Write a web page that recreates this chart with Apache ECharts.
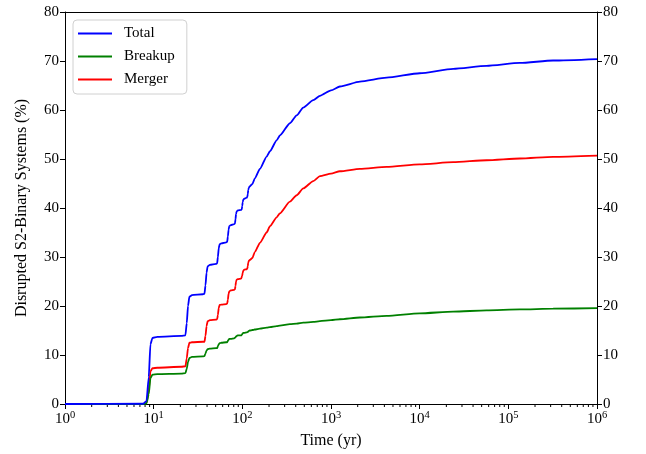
<!DOCTYPE html>
<html><head><meta charset="utf-8">
<script src="https://cdn.jsdelivr.net/npm/echarts@6/dist/echarts.min.js"></script>
<style>html,body{margin:0;padding:0;background:#fff}#c{width:646px;height:454px}</style>
</head><body><div id="c"></div>
<script>
// Time (yr)
const times = [1, 7.6, 8.3, 8.8, 9.2, 9.7, 11, 20.5,
  22.8, 23.6, 24.4, 25.3, 27, 36,
  37.4, 38.4, 39.5, 40.6, 43, 50.5,
  52, 53, 54.2, 55.5, 58, 66,
  67.5, 68.7, 70, 71.3, 74, 81,
  82.5, 83.7, 85, 86.4, 89, 97,
  98.5, 99.7, 101, 102.5, 105, 112,
  114, 115.3, 116.7, 118.3, 121, 130,
  138, 158, 188, 205, 244, 265, 344, 410, 486, 631, 750, 1000, 1260, 2120, 4240, 10000, 23900, 56800, 135000, 320000, 1000000];
// Disrupted S2-binary systems (%)
const total = [0, 0.05, 0.6, 5.5, 12.2, 13.5, 13.7, 13.9,
  14.0, 16.5, 20.0, 21.9, 22.2, 22.4,
  22.5, 24.2, 26.8, 28.1, 28.4, 28.6,
  28.7, 30.0, 31.8, 32.6, 32.8, 33.0,
  33.1, 34.2, 35.6, 36.3, 36.5, 36.7,
  36.8, 37.7, 38.8, 39.3, 39.5, 39.6,
  39.7, 40.4, 41.2, 41.7, 41.9, 42.1,
  42.3, 42.9, 43.7, 44.1, 44.4, 44.9,
  46.0, 48.0, 50.5, 51.6, 53.8, 54.8, 57.3, 58.9, 60.5, 62.0, 62.9, 64.0, 64.8, 65.8, 66.6, 67.5, 68.4, 69.0, 69.6, 70.1, 70.4];
const breakup = [0, 0, 0.1, 2.0, 5.3, 6.0, 6.1, 6.2,
  6.3, 7.2, 8.6, 9.4, 9.6, 9.7,
  9.8, 10.3, 10.9, 11.2, 11.3, 11.4,
  11.4, 11.8, 12.2, 12.4, 12.5, 12.6,
  12.6, 12.9, 13.1, 13.3, 13.3, 13.4,
  13.4, 13.6, 13.8, 13.9, 14.0, 14.0,
  14.1, 14.2, 14.4, 14.5, 14.5, 14.6,
  14.6, 14.7, 14.8, 14.9, 15.0, 15.1,
  15.2, 15.4, 15.6, 15.7, 15.9, 16.0, 16.3, 16.4, 16.6, 16.75, 16.9, 17.1, 17.3, 17.65, 18.0, 18.5, 18.85, 19.1, 19.3, 19.45, 19.55];
const merger = [0, 0, 0.2, 2.8, 6.7, 7.3, 7.4, 7.6,
  7.7, 9.3, 11.4, 12.5, 12.6, 12.7,
  12.7, 13.9, 15.9, 16.9, 17.1, 17.2,
  17.3, 18.2, 19.6, 20.2, 20.3, 20.4,
  20.5, 21.3, 22.5, 23.0, 23.2, 23.3,
  23.4, 24.1, 25.0, 25.4, 25.5, 25.6,
  25.6, 26.2, 26.8, 27.2, 27.4, 27.5,
  27.7, 28.2, 28.9, 29.2, 29.4, 29.8,
  31.0, 32.9, 35.0, 36.3, 38.1, 38.9, 41.3, 42.6, 44.0, 45.5, 46.5, 47.0, 47.5, 48.0, 48.4, 48.9, 49.35, 49.75, 50.1, 50.45, 50.7];
const seriesNames = ['Total', 'Breakup', 'Merger'];
const decadeExponents = [0, 1, 2, 3, 4, 5];
const minorMultipliers = [2, 3, 4, 5, 6, 7, 8, 9];

const FONT = '"Liberation Serif", "DejaVu Serif", serif';
const colors = ['#0000ff', '#008000', '#ff0000'];
const values = [total, breakup, merger];

const minorTicks = [];
decadeExponents.forEach(e => minorMultipliers.forEach(m => minorTicks.push([m * Math.pow(10, e), 0])));

const chart = echarts.init(document.getElementById('c'), null, {renderer: 'canvas'});
const yAxisCommon = {
  type: 'value', min: 0, max: 80, interval: 10,
  axisLine: {show: true, lineStyle: {color: '#000', width: 1}},
  axisTick: {show: true, length: 5, lineStyle: {color: '#000'}},
  splitLine: {show: false},
  axisLabel: {color: '#000', fontFamily: FONT, fontSize: 15, margin: 6}
};
chart.setOption({
  animation: false,
  backgroundColor: '#fff',
  grid: {left: 65, right: 49, top: 12, bottom: 49, containLabel: false},
  legend: {
    data: seriesNames, orient: 'vertical', left: 73, top: 20,
    padding: [6, 12, 7, 5], itemGap: 8, itemWidth: 34, itemHeight: 2, icon: 'rect',
    borderColor: '#d0d0d0', borderWidth: 1, borderRadius: 4,
    textStyle: {fontFamily: FONT, fontSize: 15, color: '#000', padding: [0, 0, 0, 7]}
  },
  xAxis: [{
    type: 'log', logBase: 10, min: 1, max: 1000000,
    name: 'Time (yr)', nameLocation: 'middle', nameGap: 29,
    nameTextStyle: {fontFamily: FONT, fontSize: 16, color: '#000'},
    axisLine: {show: true, onZero: false, lineStyle: {color: '#000', width: 1}},
    axisTick: {show: true, length: 5, lineStyle: {color: '#000'}},
    splitLine: {show: false},
    axisLabel: {
      margin: 6,
      formatter: v => '{b|10}{s|' + Math.round(Math.log10(v)) + '}',
      rich: {
        b: {fontFamily: FONT, fontSize: 15, color: '#000'},
        s: {fontFamily: FONT, fontSize: 10.5, color: '#000', padding: [0, 0, 8, 0]}
      }
    }
  }, {
    type: 'log', logBase: 10, min: 1, max: 1000000, position: 'top',
    axisLine: {show: true, onZero: false, lineStyle: {color: '#000', width: 1}},
    axisTick: {show: false}, axisLabel: {show: false}, splitLine: {show: false}
  }],
  yAxis: [Object.assign({}, yAxisCommon, {
    position: 'left',
    name: 'Disrupted S2-Binary Systems (%)', nameLocation: 'middle', nameGap: 35,
    nameTextStyle: {fontFamily: FONT, fontSize: 16, color: '#000'}
  }), Object.assign({}, yAxisCommon, {position: 'right'})],
  series: seriesNames.map((n, k) => ({
    name: n, type: 'line', xAxisIndex: 0, yAxisIndex: 0,
    data: times.map((t, i) => [t, values[k][i]]),
    showSymbol: false, symbol: 'none', smooth: 0.2, smoothMonotone: 'x',
    lineStyle: {color: colors[k], width: 1.8}, itemStyle: {color: colors[k]},
    z: 3 - k
  })).concat([{
    type: 'custom', xAxisIndex: 0, yAxisIndex: 0, silent: true, clip: false,
    data: minorTicks,
    renderItem: (params, api) => {
      const p = api.coord([api.value(0), 0]);
      return {type: 'line', shape: {x1: p[0], y1: p[1], x2: p[0], y2: p[1] + 3},
        style: {stroke: '#000', lineWidth: 1}};
    }
  }])
});
</script></body></html>
